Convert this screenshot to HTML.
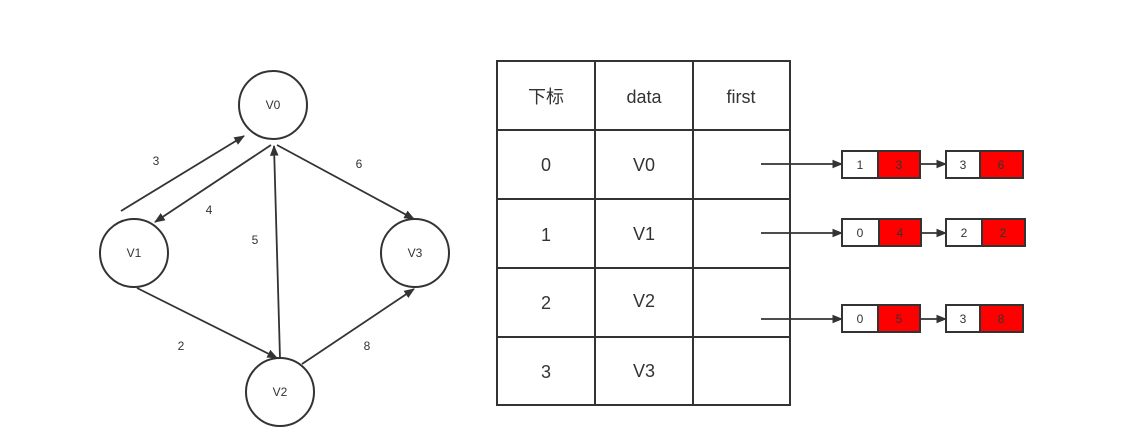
<!DOCTYPE html>
<html><head><meta charset="utf-8"><style>
body{margin:0;background:#fff;}
svg text{font-family:"Liberation Sans","Noto Sans CJK SC",sans-serif;fill:#333;}
</style></head><body>
<svg width="1122" height="442" viewBox="0 0 1122 442" xmlns="http://www.w3.org/2000/svg">
<defs><marker id="a" viewBox="0 0 10 10" refX="9" refY="5" markerWidth="6" markerHeight="6" orient="auto"><path d="M0,1L10,5L0,9z" fill="#333"/></marker></defs>
<g fill="none" stroke="#333" stroke-width="2">
<circle cx="273" cy="105" r="34"/>
<circle cx="134" cy="253" r="34"/>
<circle cx="415" cy="253" r="34"/>
<circle cx="280" cy="392" r="34"/>
<g marker-end="url(#a)" stroke-width="1.8">
<line x1="121" y1="211" x2="244" y2="136"/>
<line x1="271" y1="145" x2="155" y2="222"/>
<line x1="280" y1="358" x2="274" y2="146"/>
<line x1="277" y1="145" x2="414" y2="219"/>
<line x1="137" y1="288" x2="277" y2="358"/>
<line x1="302" y1="364" x2="414" y2="289"/>
<line x1="761" y1="164" x2="842" y2="164"/>
<line x1="761" y1="233" x2="842" y2="233"/>
<line x1="761" y1="319" x2="842" y2="319"/>
<line x1="912" y1="164" x2="946" y2="164"/>
<line x1="912" y1="233" x2="946" y2="233"/>
<line x1="912" y1="319" x2="946" y2="319"/>
</g>
<rect x="497" y="61" width="293" height="344"/>
<line x1="595" y1="61" x2="595" y2="405"/>
<line x1="693" y1="61" x2="693" y2="405"/>
<line x1="497" y1="130" x2="790" y2="130"/>
<line x1="497" y1="199" x2="790" y2="199"/>
<line x1="497" y1="268" x2="790" y2="268"/>
<line x1="497" y1="337" x2="790" y2="337"/>
</g>
<g stroke="#333" stroke-width="2">
<rect x="842" y="151" width="36" height="27" fill="#fff"/><rect x="878" y="151" width="42" height="27" fill="#f00"/>
<rect x="946" y="151" width="34" height="27" fill="#fff"/><rect x="980" y="151" width="43" height="27" fill="#f00"/>
<rect x="842" y="219" width="37" height="27" fill="#fff"/><rect x="879" y="219" width="42" height="27" fill="#f00"/>
<rect x="946" y="219" width="36" height="27" fill="#fff"/><rect x="982" y="219" width="43" height="27" fill="#f00"/>
<rect x="842" y="305" width="36" height="27" fill="#fff"/><rect x="878" y="305" width="42" height="27" fill="#f00"/>
<rect x="946" y="305" width="34" height="27" fill="#fff"/><rect x="980" y="305" width="43" height="27" fill="#f00"/>
</g>
<g font-size="12" text-anchor="middle">
<text x="273" y="109">V0</text><text x="134" y="257">V1</text><text x="415" y="257">V3</text><text x="280" y="396">V2</text>
<text x="156" y="165">3</text><text x="209" y="214">4</text><text x="255" y="244">5</text><text x="359" y="168">6</text><text x="181" y="350">2</text><text x="367" y="350">8</text>
<text x="860" y="169">1</text><text x="899" y="169">3</text><text x="963" y="169">3</text><text x="1001" y="169">6</text>
<text x="860" y="237">0</text><text x="900" y="237">4</text><text x="964" y="237">2</text><text x="1003" y="237">2</text>
<text x="860" y="323">0</text><text x="899" y="323">5</text><text x="963" y="323">3</text><text x="1001" y="323">8</text>
</g>
<g font-size="18" text-anchor="middle">
<text x="546" y="103">下标</text><text x="644" y="103">data</text><text x="741" y="103">first</text>
<text x="546" y="171">0</text><text x="644" y="171">V0</text>
<text x="546" y="241">1</text><text x="644" y="240">V1</text>
<text x="546" y="309">2</text><text x="644" y="307">V2</text>
<text x="546" y="378">3</text><text x="644" y="377">V3</text>
</g>
</svg>
</body></html>
